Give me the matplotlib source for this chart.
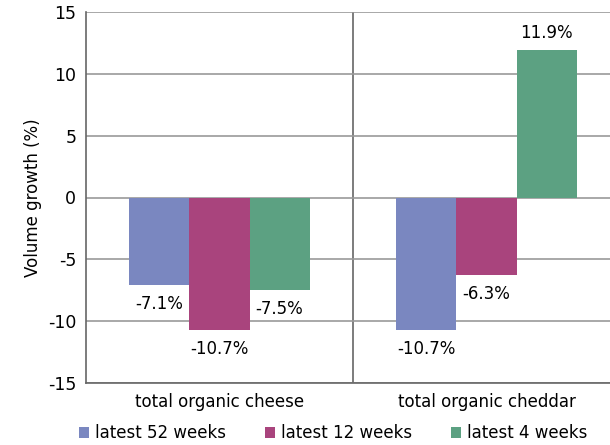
import numpy as np
import matplotlib.pyplot as plt

plt.rcParams['font.family'] = ['DejaVu Sans']
plt.rcParams['axes.unicode_minus'] = False

categories = ["total organic cheese", "total organic cheddar"]
series = ["latest 52 weeks", "latest 12 weeks", "latest 4 weeks"]
values = {
    "latest 52 weeks": [-7.1, -10.7],
    "latest 12 weeks": [-10.7, -6.3],
    "latest 4 weeks": [-7.5, 11.9],
}
colors = ["#7A87C0", "#A9447D", "#5CA182"]

fig = plt.figure(figsize=(6.1, 4.45), dpi=100)
# right edge of the plot area runs slightly past the picture
ax = fig.add_axes([86 / 610, 1 - 383 / 445, 534 / 610, 371 / 445])

x = np.arange(len(categories))
width = 0.225
for i, name in enumerate(series):
    pos = x + (i - 1) * width
    bars = ax.bar(pos, values[name], width, color=colors[i], label=name, zorder=3)
    for b, v in zip(bars, values[name]):
        if v < 0:
            ax.annotate(f"{v}%", (b.get_x() + b.get_width() / 2, v),
                        xytext=(0, -7), textcoords="offset points",
                        ha="center", va="top", fontsize=12)
        else:
            ax.annotate(f"{v}%", (b.get_x() + b.get_width() / 2, v),
                        xytext=(0, 6), textcoords="offset points",
                        ha="center", va="bottom", fontsize=12)

ax.set_xlim(-0.5, 1.5)
ax.set_ylim(-15, 15)
ax.set_yticks(range(-15, 16, 5))
ax.yaxis.grid(True, color="#999999", linewidth=1.2, zorder=0)
ax.axvline(0.5, color="#666666", linewidth=1.2, zorder=1)
for s in ["top", "right"]:
    ax.spines[s].set_visible(False)
ax.spines["left"].set_color("#666666")
ax.spines["left"].set_linewidth(1.2)
ax.spines["bottom"].set_color("#666666")
ax.spines["bottom"].set_linewidth(1.2)
ax.tick_params(axis="y", length=0, labelsize=12.5, pad=7)
ax.tick_params(axis="x", length=0, labelsize=12, pad=7)
ax.set_xticks(x)
ax.set_xticklabels(categories)
ax.set_ylabel("Volume growth (%)", fontsize=12)
ax.yaxis.set_label_coords(-0.082, 0.5)

ax.legend(loc="lower center", bbox_to_anchor=(0.463, -0.2), ncol=3,
          frameon=False, fontsize=12, handlelength=0.6, handleheight=0.6,
          handletextpad=0.4, columnspacing=2.3)

fig.savefig("out.png", dpi=100)
